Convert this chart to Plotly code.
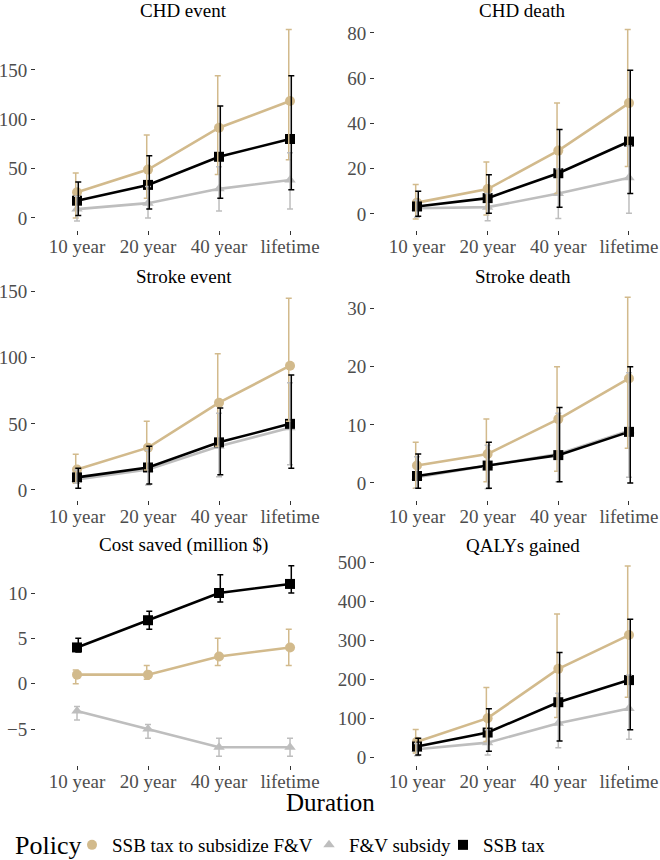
import plotly.graph_objects as go

# ---------------- data ----------------
durations = ["10 year", "20 year", "40 year", "lifetime"]
policies = ["SSB tax to subsidize F&V", "F&V subsidy", "SSB tax"]

# order inside each list: [SSB tax to subsidize F&V, F&V subsidy, SSB tax]
chd_event_mean = [[26, 49, 91.5, 118.5], [9, 15, 29.5, 38.5], [17.5, 33.5, 62, 80]]
chd_event_low = [[0, 20, 44, 59], [-3, 0, 7, 9], [2.5, 9, 20, 28.5]]
chd_event_high = [[45.5, 84, 144, 191], [22, 32, 52, 66], [36.5, 63, 113.5, 144]]

chd_death_mean = [[5, 11, 28, 49], [2.5, 3, 9, 16], [3.3, 7, 18, 32]]
chd_death_low = [[-2.2, -0.5, 9, 21], [-1.5, -3, -2, 0.3], [-1, 0.3, 3, 9]]
chd_death_high = [[13, 23, 49, 81.5], [6, 9, 20, 30], [10, 17.3, 37.3, 63.5]]

stroke_event_mean = [[15.5, 32, 66, 94], [8, 15.5, 33, 47], [9.5, 17, 36, 50]]
stroke_event_low = [[5, 15, 33, 52], [5, 3.8, 10, 19], [1.3, 4.5, 11.5, 16.5]]
stroke_event_high = [[27, 52, 103, 145], [15, 30, 58, 81], [16.5, 33, 62, 87]]

stroke_death_mean = [[3, 5, 11, 18], [1, 3, 5, 9], [1.2, 3, 4.8, 8.8]]
stroke_death_low = [[-0.9, 0.2, 2, 6], [-0.9, -1, 0.2, 1], [-0.9, -0.9, 0.2, 0]]
stroke_death_high = [[7, 11, 20, 32], [4.5, 6.5, 12, 19], [5, 7, 13, 20]]

cost_mean = [[1, 1, 3, 4], [-3, -5, -7, -7], [4, 7, 10, 11]]
cost_low = [[0, 0.5, 2, 2], [-4, -6, -8, -8], [3.5, 6, 9, 10]]
cost_high = [[1.5, 2, 5, 6], [-2.5, -4.5, -6, -6], [5, 8, 12, 13]]

qaly_mean = [[39, 100, 227, 314], [20, 37, 87, 125], [27, 63, 141, 198]]
qaly_low = [[10, 40, 102, 154], [3, 5, 24, 46], [5, 15, 41, 70]]
qaly_high = [[71, 179, 368, 492], [35, 70, 164, 211], [48, 124, 269, 355]]

panel_titles = ["CHD event", "CHD death", "Stroke event", "Stroke death",
                "Cost saved (million $)", "QALYs gained"]
panel_means = [chd_event_mean, chd_death_mean, stroke_event_mean,
               stroke_death_mean, cost_mean, qaly_mean]
panel_lows = [chd_event_low, chd_death_low, stroke_event_low,
              stroke_death_low, cost_low, qaly_low]
panel_highs = [chd_event_high, chd_death_high, stroke_event_high,
               stroke_death_high, cost_high, qaly_high]
panel_dticks = [50, 20, 50, 10, 5, 100]

# ---------------- style / layout ----------------
W, H = 660, 860
FONT = "serif"
colors = ["#D2BA8C", "#BEBEBE", "#000000"]
symbols = ["circle", "triangle-up", "square"]
dodge = [-0.018, 0.0, 0.018]
legend_ids = ["legend", "legend2", "legend3"]
legend_symbol_px = [92, 329, 463]

col_px = [(36, 330), (375, 660)]
row_px = [(21, 230), (289, 500), (557, 765)]
xranges = [(0.4225, 4.563), (0.406, 4.439)]
yranges = [(-12.2, 199.6), (-7.1, 85.3), (-7.6, 152.0), (-2.93, 33.4),
           (-8.96, 13.97), (-20.6, 515)]
title_y_px = [10, 10, 276, 276, 545, 545]

fig = go.Figure()
layout = {}
annotations = []

for p in range(6):
    r, c = divmod(p, 2)
    ax = "" if p == 0 else str(p + 1)
    xref, yref = "x" + ax, "y" + ax
    xpos = list(range(1, len(durations) + 1))
    means, lows, highs = panel_means[p], panel_lows[p], panel_highs[p]

    for k in range(3):
        fig.add_trace(go.Scatter(
            x=xpos, y=means[k], mode="lines", xaxis=xref, yaxis=yref,
            line=dict(color=colors[k], width=2.6), showlegend=False,
            hoverinfo="skip"))
    for k in range(3):
        fig.add_trace(go.Scatter(
            x=xpos, y=means[k], mode="markers", xaxis=xref, yaxis=yref,
            marker=dict(color=colors[k], symbol=symbols[k], size=10,
                        line=dict(width=0)),
            name=policies[k], legendgroup=policies[k],
            legend=legend_ids[k], showlegend=(p == 0)))
    for k in range(3):
        fig.add_trace(go.Scatter(
            x=[x + dodge[k] for x in xpos], y=means[k], mode="markers",
            xaxis=xref, yaxis=yref,
            marker=dict(color="rgba(0,0,0,0)", size=1),
            error_y=dict(type="data", symmetric=False,
                         array=[h - m for h, m in zip(highs[k], means[k])],
                         arrayminus=[m - l for m, l in zip(means[k], lows[k])],
                         color=colors[k], thickness=1.5, width=3),
            showlegend=False, hoverinfo="skip"))

    x0, x1 = col_px[c]
    y0, y1 = row_px[r]
    layout["xaxis" + ax] = dict(
        domain=[x0 / W, x1 / W], range=list(xranges[c]), anchor=yref,
        tickmode="array", tickvals=xpos, ticktext=durations,
        showgrid=False, zeroline=False, showline=False, automargin=False,
        ticks="outside", ticklen=4, tickwidth=1, tickcolor="#333333",
        ticklabelstandoff=-5,
        tickfont=dict(family=FONT, size=19, color="#4D4D4D"))
    layout["yaxis" + ax] = dict(
        domain=[1 - y1 / H, 1 - y0 / H], range=list(yranges[p]), anchor=xref,
        dtick=panel_dticks[p], tick0=0, automargin=False,
        showgrid=False, zeroline=False, showline=False,
        ticks="outside", ticklen=4, tickwidth=1, tickcolor="#333333",
        tickfont=dict(family=FONT, size=19, color="#4D4D4D"))
    xr = xranges[c]
    centre_px = x0 + (2.5 - xr[0]) / (xr[1] - xr[0]) * (x1 - x0)
    annotations.append(dict(
        text=panel_titles[p], x=centre_px / W, y=1 - title_y_px[p] / H,
        xref="paper", yref="paper", xanchor="center", yanchor="middle",
        showarrow=False, font=dict(family=FONT, size=19, color="#000000")))

annotations.append(dict(
    text="Duration", x=331 / W, y=1 - 802 / H, xref="paper", yref="paper",
    xanchor="center", yanchor="middle", showarrow=False,
    font=dict(family=FONT, size=25, color="#000000")))
annotations.append(dict(
    text="Policy", x=13 / W, y=1 - 845 / H, xref="paper", yref="paper",
    xanchor="left", yanchor="middle", showarrow=False,
    font=dict(family=FONT, size=26, color="#000000")))

for k in range(3):
    layout[legend_ids[k]] = dict(
        orientation="h", x=(legend_symbol_px[k] - 20) / W, y=1 - 845 / H,
        xanchor="left", yanchor="middle",
        font=dict(family=FONT, size=19, color="#000000"),
        itemwidth=30, bgcolor="rgba(0,0,0,0)", borderwidth=0)

fig.update_layout(
    width=W, height=H,
    margin=dict(l=0, r=0, t=0, b=0, autoexpand=False),
    paper_bgcolor="white", plot_bgcolor="white",
    font=dict(family=FONT, color="#000000"),
    annotations=annotations,
    **layout)

fig.write_html("out.html", config={"displayModeBar": False},
               post_script="document.body.style.margin='0';")
